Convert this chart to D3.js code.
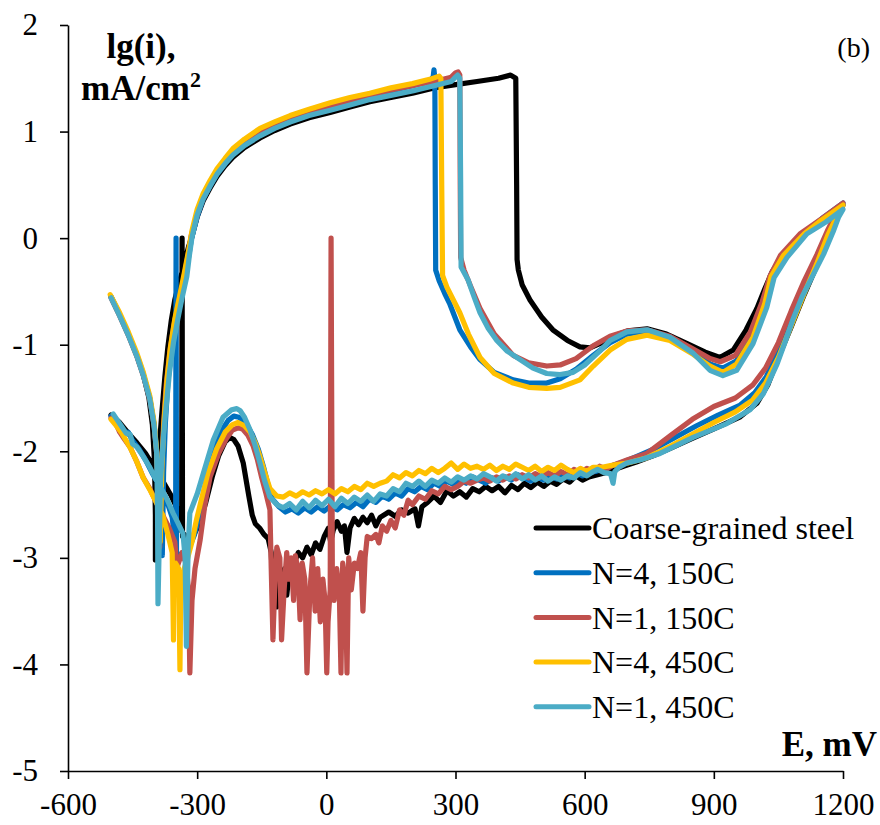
<!DOCTYPE html>
<html>
<head>
<meta charset="utf-8">
<script src="https://cdn.jsdelivr.net/npm/d3@7/dist/d3.min.js"></script>
<style>
  html, body { margin: 0; padding: 0; background: #fff; }
  svg { display: block; }
  text { font-family: "Liberation Serif", "Times New Roman", serif; fill: #000; }
</style>
</head>
<body>
<svg id="chart" width="880" height="825"></svg>
<script>
// Cyclic polarization curves: lg(i) vs potential E (mV)

const xTicks = [-600, -300, 0, 300, 600, 900, 1200];
const yTicks = [-5, -4, -3, -2, -1, 0, 1, 2];

const seriesNames = ["Coarse-grained steel", "N=4, 150C", "N=1, 150C", "N=4, 450C", "N=1, 450C"];
const seriesColors = ["#000000", "#0070C0", "#C0504D", "#FFC000", "#4BACC6"];

// Coarse-grained steel: forward scan then reverse scan
const coarseGrained = [
  [-500,-0.55],[-480,-0.72],[-460,-0.9],[-440,-1.1],[-425,-1.28],[-412,-1.5],[-404,-1.75],[-399,-2.1],[-397,-2.6],[-397,-3.02],
  [-393,-2.27],[-388,-1.95],[-382,-1.64],[-375,-1.3],[-368,-1.02],[-360,-0.77],[-352,-0.58],[-342,-0.42],[-331,-0.26],[-320,-0.08],
  [-313,0.0],[-300,0.2],[-286,0.35],[-270,0.47],[-254,0.58],[-235,0.68],[-217,0.76],[-190,0.85],[-154,0.94],[-120,1.01],
  [-84,1.07],[-40,1.13],[9,1.18],[55,1.23],[101,1.28],[150,1.32],[200,1.36],[250,1.41],[300,1.44],[350,1.47],[400,1.5],[428,1.53],[440,1.5],
  [442,0.5],[443,-0.2],[446,-0.3],[455,-0.44],[473,-0.58],[500,-0.74],[526,-0.86],[560,-0.96],[589,-1.02],[612,-1.03],
  [635,-0.99],[660,-0.93],[700,-0.87],[745,-0.85],[790,-0.9],[838,-0.99],[880,-1.07],[914,-1.12],[945,-1.05],[975,-0.86],
  [1000,-0.66],[1018,-0.48],[1035,-0.32],[1060,-0.16],[1084,-0.05],[1123,0.08],[1160,0.18],[1200,0.31],
  [1185,0.18],[1165,0.0],[1140,-0.25],[1110,-0.53],[1080,-0.83],[1050,-1.12],[1025,-1.38],[1000,-1.55],[960,-1.68],[900,-1.79],
  [850,-1.88],[800,-1.97],[760,-2.04],[720,-2.1],[690,-2.14],[670,-2.17],[650,-2.2],[630,-2.22],[610,-2.24],
  [595,-2.27],[580,-2.23],[565,-2.29],[550,-2.26],[535,-2.31],[520,-2.28],[505,-2.33],[490,-2.29],[475,-2.34],[460,-2.3],
  [445,-2.36],[430,-2.32],[415,-2.39],[400,-2.33],[385,-2.37],[370,-2.33],[355,-2.38],[340,-2.35],[325,-2.43],[310,-2.38],
  [295,-2.42],[280,-2.37],[265,-2.48],[250,-2.42],[235,-2.48],[222,-2.52],[214,-2.7],[206,-2.54],[190,-2.58],[175,-2.55],
  [160,-2.61],[145,-2.57],[125,-2.62],[115,-2.7],[105,-2.6],[95,-2.67],[85,-2.62],[75,-2.69],[65,-2.63],[55,-2.72],
  [48,-2.95],[42,-2.7],[35,-2.75],[25,-2.66],[16,-2.74],[10,-2.85],[5,-2.72],[-5,-2.8],[-15,-2.92],[-25,-2.86],
  [-35,-2.97],[-45,-2.9],[-55,-3.0],[-65,-2.95],[-75,-3.05],[-85,-3.1],[-92,-3.35],[-97,-3.1],[-103,-3.45],[-110,-3.42],
  [-115,-3.46],[-120,-3.1],[-124,-3.3],[-128,-2.95],[-135,-2.82],[-145,-2.78],[-155,-2.72],[-165,-2.68],[-172,-2.6],[-180,-2.42],
  [-193,-2.11],[-205,-1.95],[-215,-1.89],[-224,-1.87],[-235,-1.91],[-250,-2.04],[-265,-2.24],[-280,-2.48],[-295,-2.68],[-310,-2.8],
  [-322,-2.82],[-330,-2.78],[-334,-2.8],[-335,0],[-336,-2.75],[-345,-2.55],[-360,-2.42],[-380,-2.28],[-400,-2.15],[-420,-2.02],
  [-440,-1.92],[-460,-1.83],[-480,-1.73],[-500,-1.66]
];

// N=4, 150C
const n4t150 = [
  [-500,-0.55],[-480,-0.72],[-460,-0.9],[-440,-1.1],[-425,-1.28],[-410,-1.5],[-400,-1.75],[-394,-2.0],[-388,-2.4],[-381,-2.98],
  [-378,-2.2],[-374,-1.75],[-368,-1.35],[-360,-1.05],[-350,-0.8],[-340,-0.6],[-330,-0.4],[-320,-0.18],[-313,0.0],[-300,0.2],
  [-286,0.37],[-270,0.49],[-254,0.6],[-235,0.7],[-217,0.79],[-190,0.89],[-154,0.98],[-120,1.05],[-84,1.11],[-40,1.17],
  [9,1.23],[55,1.28],[101,1.33],[150,1.38],[200,1.43],[240,1.48],[248,1.51],[250,1.58],[252,1.5],
  [253,0.5],[254,-0.3],[262,-0.4],[275,-0.52],[287,-0.62],[310,-0.86],[335,-1.02],[357,-1.14],[390,-1.26],[434,-1.33],
  [470,-1.36],[512,-1.36],[543,-1.32],[580,-1.23],[620,-1.1],[659,-0.98],[698,-0.9],[745,-0.87],[798,-0.93],[852,-1.06],
  [891,-1.18],[921,-1.22],[953,-1.15],[991,-0.9],[1018,-0.6],[1032,-0.35],[1060,-0.15],[1110,0.05],[1150,0.18],[1200,0.33],
  [1185,0.22],[1165,0.05],[1140,-0.2],[1110,-0.47],[1080,-0.76],[1050,-1.05],[1022,-1.3],[995,-1.45],[960,-1.57],[910,-1.66],
  [860,-1.76],[810,-1.87],[760,-1.98],[720,-2.05],[690,-2.1],[660,-2.14],[640,-2.17],[625,-2.19],
  [610,-2.2],[595,-2.23],[580,-2.2],[565,-2.25],[550,-2.22],[535,-2.26],[520,-2.23],[505,-2.27],[490,-2.24],[475,-2.28],
  [460,-2.25],[445,-2.22],[430,-2.27],[415,-2.24],[400,-2.28],[385,-2.25],[370,-2.3],[355,-2.27],[340,-2.24],[325,-2.3],
  [310,-2.27],[295,-2.31],[280,-2.28],[265,-2.33],[250,-2.3],[235,-2.36],[220,-2.33],[205,-2.38],[190,-2.35],[175,-2.42],
  [160,-2.39],[145,-2.45],[130,-2.42],[115,-2.48],[100,-2.45],[85,-2.52],[70,-2.48],[55,-2.53],[40,-2.5],[25,-2.55],
  [10,-2.51],[-5,-2.56],[-20,-2.52],[-35,-2.57],[-50,-2.53],[-65,-2.58],[-80,-2.54],[-95,-2.57],[-110,-2.52],[-125,-2.45],
  [-135,-2.32],[-145,-2.16],[-158,-1.98],[-172,-1.84],[-188,-1.73],[-203,-1.68],[-215,-1.67],[-228,-1.71],[-242,-1.8],[-258,-1.97],
  [-272,-2.17],[-284,-2.4],[-295,-2.6],[-306,-2.78],[-318,-2.9],[-330,-2.94],[-340,-2.97],[-348,-3.0],[-349,0],[-350,-2.9],
  [-358,-2.62],[-372,-2.45],[-388,-2.32],[-405,-2.2],[-420,-2.08],[-435,-1.98],[-450,-1.9],[-460,-1.82],[-468,-1.84],[-480,-1.76],
  [-492,-1.7],[-500,-1.67]
];

// N=1, 150C
const n1t150 = [
  [-500,-0.56],[-480,-0.73],[-460,-0.91],[-440,-1.11],[-425,-1.29],[-410,-1.51],[-400,-1.76],[-394,-2.02],[-390,-2.45],[-387,-2.9],
  [-383,-2.2],[-378,-1.75],[-372,-1.38],[-364,-1.08],[-354,-0.82],[-343,-0.6],[-332,-0.4],[-322,-0.18],[-314,0.02],[-300,0.22],
  [-286,0.38],[-270,0.5],[-254,0.61],[-235,0.71],[-217,0.8],[-190,0.9],[-154,0.99],[-120,1.06],[-84,1.12],[-40,1.18],
  [9,1.24],[55,1.29],[101,1.34],[150,1.39],[200,1.43],[250,1.47],[290,1.51],[300,1.55],[306,1.56],[310,1.53],
  [311,0.5],[312,-0.18],[320,-0.3],[335,-0.45],[357,-0.66],[390,-0.9],[434,-1.1],[470,-1.17],[512,-1.2],[543,-1.19],
  [580,-1.13],[620,-1.01],[659,-0.92],[698,-0.87],[745,-0.86],[798,-0.92],[852,-1.04],[891,-1.13],[915,-1.16],[950,-1.1],
  [985,-0.88],[1012,-0.6],[1030,-0.36],[1055,-0.16],[1100,0.04],[1150,0.18],[1200,0.33],
  [1185,0.24],[1165,0.08],[1140,-0.15],[1110,-0.4],[1080,-0.68],[1050,-0.98],[1020,-1.22],[990,-1.38],[950,-1.5],[900,-1.58],
  [850,-1.7],[800,-1.85],[745,-2.02],[700,-2.08],[680,-2.11],
  [666,-2.13],[650,-2.17],[635,-2.14],[620,-2.19],[605,-2.16],[590,-2.2],[575,-2.17],[560,-2.22],[545,-2.19],[530,-2.23],
  [515,-2.2],[500,-2.24],[485,-2.21],[470,-2.25],[455,-2.22],[440,-2.26],[425,-2.23],[410,-2.27],[395,-2.24],[380,-2.28],
  [365,-2.25],[350,-2.27],[335,-2.3],[320,-2.28],[305,-2.33],[290,-2.36],[275,-2.33],[260,-2.4],[245,-2.37],[230,-2.45],
  [215,-2.42],[200,-2.5],[190,-2.46],[180,-2.6],[170,-2.55],[160,-2.72],[150,-2.65],[140,-2.75],[130,-2.7],[122,-2.86],
  [115,-2.78],[105,-2.82],[95,-2.8],[90,-3.0],[85,-3.5],[80,-2.95],[72,-3.1],[65,-3.05],[58,-3.3],[52,-3.0],
  [48,-4.08],[44,-3.2],[38,-3.05],[34,-4.08],[30,-3.3],[24,-3.1],[18,-3.4],[14,-3.2],[11,0],[9,-3.3],
  [4,-3.6],[1,-4.08],[-3,-3.4],[-8,-3.2],[-14,-3.6],[-20,-3.1],[-26,-3.5],[-32,-3.0],[-38,-3.3],[-45,-4.08],
  [-50,-3.2],[-56,-3.05],[-61,-3.58],[-66,-3.1],[-72,-2.98],[-76,-3.4],[-82,-3.0],[-88,-3.2],[-92,-2.95],[-98,-3.3],
  [-104,-3.77],[-108,-3.0],[-115,-2.9],[-120,-3.3],[-124,-3.77],[-128,-3.1],[-131,-2.55],[-140,-2.4],[-150,-2.25],[-160,-2.08],
  [-170,-1.95],[-182,-1.85],[-195,-1.79],[-205,-1.78],[-218,-1.8],[-232,-1.88],[-250,-2.02],[-270,-2.24],[-282,-2.5],[-293,-2.83],
  [-305,-3.1],[-312,-3.4],[-317,-4.08],[-320,-3.3],[-326,-3.05],[-335,-2.95],[-347,-3.09],[-352,-2.85],[-365,-2.72],[-380,-2.6],
  [-395,-2.48],[-410,-2.35],[-425,-2.25],[-440,-2.1],[-456,-1.96],[-470,-1.88],[-480,-1.82],[-491,-1.72],[-500,-1.69]
];

// N=4, 450C
const n4t450 = [
  [-502,-0.53],[-480,-0.7],[-460,-0.88],[-440,-1.08],[-425,-1.26],[-410,-1.48],[-400,-1.73],[-394,-2.0],[-390,-2.4],[-386,-2.85],
  [-382,-2.15],[-377,-1.72],[-370,-1.33],[-362,-1.02],[-352,-0.76],[-341,-0.55],[-330,-0.33],[-320,-0.12],[-312,0.07],[-300,0.27],
  [-286,0.42],[-270,0.54],[-254,0.65],[-235,0.75],[-217,0.84],[-190,0.93],[-154,1.03],[-120,1.09],[-84,1.15],[-40,1.21],
  [9,1.27],[55,1.32],[101,1.36],[150,1.41],[200,1.45],[240,1.49],[262,1.52],[266,1.5],
  [268,0.5],[270,-0.35],[280,-0.46],[295,-0.58],[310,-0.7],[330,-0.9],[357,-1.12],[390,-1.27],[434,-1.36],[470,-1.4],
  [512,-1.41],[543,-1.4],[589,-1.33],[620,-1.2],[659,-1.05],[698,-0.95],[745,-0.91],[798,-0.96],[852,-1.09],[891,-1.2],
  [921,-1.26],[953,-1.18],[991,-0.93],[1018,-0.62],[1033,-0.36],[1062,-0.16],[1110,0.04],[1150,0.17],[1200,0.31],
  [1185,0.2],[1165,0.03],[1140,-0.23],[1110,-0.52],[1080,-0.82],[1050,-1.12],[1020,-1.36],[990,-1.52],[950,-1.63],[900,-1.73],
  [850,-1.84],[800,-1.95],[745,-2.06],[700,-2.11],[666,-2.13],[640,-2.15],
  [620,-2.15],[605,-2.19],[590,-2.16],[575,-2.2],[560,-2.17],[545,-2.13],[530,-2.18],[515,-2.15],[500,-2.19],[485,-2.14],
  [470,-2.18],[455,-2.15],[440,-2.12],[425,-2.17],[410,-2.14],[395,-2.18],[380,-2.13],[365,-2.17],[350,-2.14],[335,-2.16],
  [320,-2.12],[305,-2.17],[290,-2.11],[275,-2.16],[260,-2.2],[245,-2.16],[230,-2.21],[215,-2.18],[200,-2.23],[185,-2.2],
  [170,-2.25],[155,-2.22],[140,-2.28],[125,-2.3],[110,-2.33],[95,-2.3],[80,-2.36],[65,-2.33],[50,-2.38],[35,-2.35],
  [20,-2.4],[5,-2.36],[-10,-2.4],[-25,-2.37],[-40,-2.41],[-55,-2.38],[-70,-2.42],[-85,-2.39],[-100,-2.43],[-115,-2.42],
  [-131,-2.35],[-143,-2.2],[-154,-2.05],[-165,-1.92],[-177,-1.82],[-190,-1.76],[-205,-1.73],[-218,-1.75],[-235,-1.82],[-255,-1.98],
  [-275,-2.2],[-290,-2.45],[-302,-2.65],[-312,-2.85],[-322,-3.0],[-330,-3.1],[-338,-3.3],[-340,-4.05],[-343,-3.1],[-350,-3.05],
  [-354,-3.2],[-355,-3.77],[-358,-2.95],[-368,-2.78],[-380,-2.6],[-395,-2.48],[-410,-2.36],[-425,-2.25],[-440,-2.1],[-455,-1.97],
  [-465,-1.9],[-475,-1.83],[-488,-1.76],[-500,-1.7]
];

// N=1, 450C
const n1t450 = [
  [-500,-0.56],[-480,-0.73],[-460,-0.91],[-440,-1.11],[-425,-1.29],[-410,-1.51],[-400,-1.76],[-394,-2.02],[-392,-2.6],[-391,-3.43],
  [-385,-2.27],[-378,-1.85],[-372,-1.58],[-364,-1.25],[-355,-0.98],[-345,-0.76],[-335,-0.56],[-324,-0.36],[-318,-0.16],[-312,0.01],
  [-300,0.22],[-286,0.37],[-270,0.49],[-254,0.6],[-235,0.7],[-217,0.78],[-190,0.87],[-154,0.96],[-120,1.03],[-84,1.09],
  [-40,1.15],[9,1.2],[55,1.25],[101,1.3],[150,1.34],[200,1.38],[250,1.43],[290,1.47],[300,1.51],[305,1.53],[310,1.5],
  [312,0.5],[313,-0.27],[329,-0.39],[343,-0.55],[357,-0.7],[375,-0.84],[396,-0.96],[420,-1.06],[450,-1.14],[480,-1.22],
  [512,-1.27],[543,-1.28],[573,-1.26],[600,-1.19],[635,-1.06],[659,-0.96],[698,-0.88],[745,-0.86],[798,-0.93],[852,-1.08],
  [891,-1.24],[921,-1.29],[953,-1.24],[991,-0.99],[1023,-0.65],[1040,-0.37],[1070,-0.18],[1116,0.04],[1160,0.15],[1200,0.27],
  [1190,0.2],[1177,0.06],[1155,-0.15],[1130,-0.35],[1105,-0.55],[1084,-0.76],[1065,-0.98],[1047,-1.18],[1030,-1.33],[1015,-1.46],
  [984,-1.61],[930,-1.74],[852,-1.87],[775,-2.02],[730,-2.08],[698,-2.11],[680,-2.15],[670,-2.19],[666,-2.3],[660,-2.21],
  [645,-2.2],[630,-2.17],[620,-2.19],[605,-2.23],[590,-2.2],[575,-2.25],[560,-2.23],[545,-2.27],[530,-2.24],[515,-2.28],
  [500,-2.23],[485,-2.27],[470,-2.22],[455,-2.26],[440,-2.21],[425,-2.26],[410,-2.23],[395,-2.28],[380,-2.24],[365,-2.21],
  [350,-2.26],[335,-2.23],[320,-2.27],[305,-2.24],[290,-2.29],[275,-2.25],[260,-2.3],[245,-2.27],[230,-2.33],[215,-2.28],
  [200,-2.33],[185,-2.3],[170,-2.38],[155,-2.35],[140,-2.42],[125,-2.4],[110,-2.47],[95,-2.41],[80,-2.47],[65,-2.43],
  [50,-2.49],[35,-2.44],[20,-2.52],[5,-2.45],[-10,-2.51],[-25,-2.46],[-40,-2.53],[-55,-2.47],[-70,-2.55],[-85,-2.49],
  [-100,-2.53],[-115,-2.5],[-131,-2.43],[-143,-2.28],[-154,-2.11],[-165,-1.95],[-177,-1.8],[-190,-1.68],[-200,-1.62],[-208,-1.6],
  [-220,-1.61],[-240,-1.68],[-263,-1.9],[-286,-2.21],[-300,-2.4],[-317,-2.58],[-321,-2.9],[-325,-3.83],[-328,-3.0],[-333,-2.77],
  [-345,-2.67],[-356,-2.58],[-370,-2.45],[-386,-2.33],[-398,-2.25],[-410,-2.15],[-425,-2.05],[-440,-1.96],[-450,-1.93],[-456,-1.84],
  [-465,-1.83],[-475,-1.77],[-485,-1.71],[-495,-1.65]
];

const seriesData = [coarseGrained, n4t150, n1t150, n4t450, n1t450];

const svg = d3.select("#chart");

const x = d3.scaleLinear().domain([-600, 1200]).range([68, 843]);
const y = d3.scaleLinear().domain([-5, 2]).range([771, 25]);

// Curves
const line = d3.line()
  .x(d => x(d[0]))
  .y(d => y(d[1]));

const plot = svg.append("g");
seriesData.forEach((data, i) => {
  plot.append("path")
    .datum(data)
    .attr("d", line)
    .attr("fill", "none")
    .attr("stroke", seriesColors[i])
    .attr("stroke-width", 5.2)
    .attr("stroke-linejoin", "round")
    .attr("stroke-linecap", "round");
});

// Axes
const yAxis = svg.append("g")
  .attr("transform", `translate(${x(-600)},0)`)
  .call(d3.axisLeft(y).tickValues(yTicks).tickSize(8).tickSizeOuter(0).tickPadding(22).tickFormat(d3.format("d")));

const xAxis = svg.append("g")
  .attr("transform", `translate(0,${y(-5)})`)
  .call(d3.axisBottom(x).tickValues(xTicks).tickSize(8).tickSizeOuter(0).tickPadding(14).tickFormat(d3.format("d")));

[xAxis, yAxis].forEach(g => {
  g.attr("font-family", null);
  g.select(".domain").attr("stroke", "#000").attr("stroke-width", 1.6);
  g.selectAll(".tick line").attr("stroke", "#000").attr("stroke-width", 1.6);
  g.selectAll(".tick text")
    .attr("fill", "#000")
    .style("font-family", '"Liberation Serif", "Times New Roman", serif')
    .style("font-size", "31px");
});
// Hyphen-minus as in the tick labels
svg.selectAll(".tick text").text(function () { return this.textContent.replace("\u2212", "-"); });

// Axis titles
svg.append("text")
  .attr("x", 141).attr("y", 58)
  .attr("text-anchor", "middle")
  .style("font-size", "35px").style("font-weight", "bold")
  .text("lg(i),");
const yTitle2 = svg.append("text")
  .attr("x", 141).attr("y", 100)
  .attr("text-anchor", "middle")
  .style("font-size", "35px").style("font-weight", "bold");
yTitle2.append("tspan").text("mA/cm");
yTitle2.append("tspan").attr("dy", -13).style("font-size", "22px").text("2");

svg.append("text")
  .attr("x", 877).attr("y", 756)
  .attr("text-anchor", "end")
  .style("font-size", "35px").style("font-weight", "bold")
  .text("E, mV");

svg.append("text")
  .attr("x", 870).attr("y", 57)
  .attr("text-anchor", "end")
  .style("font-size", "28px")
  .text("(b)");

// Legend
const legend = svg.append("g").attr("transform", "translate(536,528)");
seriesNames.forEach((name, i) => {
  const row = legend.append("g").attr("transform", `translate(0,${i * 44.7})`);
  row.append("line")
    .attr("x1", 0).attr("x2", 53).attr("y1", 0).attr("y2", 0)
    .attr("stroke", seriesColors[i]).attr("stroke-width", 5)
    .attr("stroke-linecap", "round");
  row.append("text")
    .attr("x", 56).attr("y", 0).attr("dy", "0.35em")
    .style("font-size", "32px")
    .text(name);
});
</script>
</body>
</html>
